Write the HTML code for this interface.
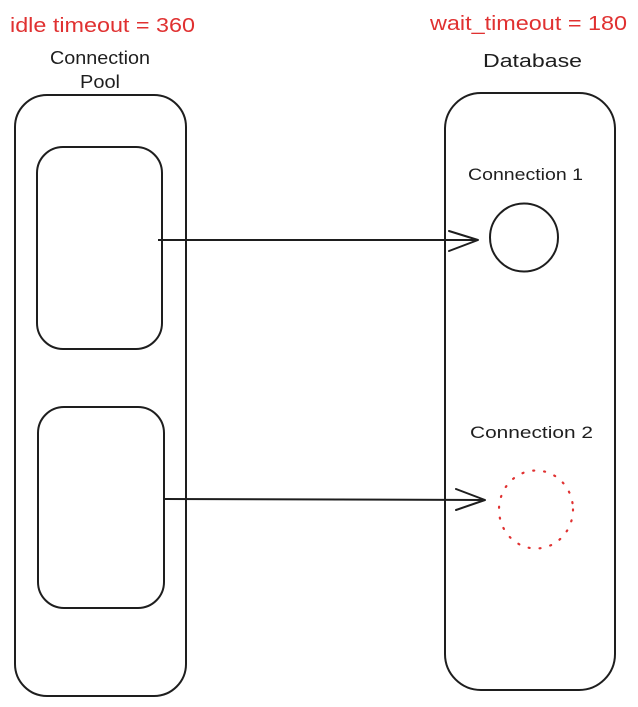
<!DOCTYPE html>
<html>
<head>
<meta charset="utf-8">
<style>
  html, body { margin: 0; padding: 0; background: #ffffff; }
  svg { display: block; }
  text { font-family: "Liberation Sans", "DejaVu Sans", sans-serif; }
</style>
</head>
<body>
<svg width="638" height="707" viewBox="0 0 638 707" xmlns="http://www.w3.org/2000/svg">
  <rect x="0" y="0" width="638" height="707" fill="#ffffff"/>

  <!-- Red labels -->
  <text x="10" y="32" font-size="20" fill="#e03131" textLength="185" lengthAdjust="spacingAndGlyphs">idle timeout = 360</text>
  <text x="430" y="30" font-size="20" fill="#e03131" textLength="197" lengthAdjust="spacingAndGlyphs">wait_timeout = 180</text>

  <!-- Black labels -->
  <text x="50" y="64" font-size="18" fill="#1e1e1e" textLength="100" lengthAdjust="spacingAndGlyphs">Connection</text>
  <text x="80" y="88" font-size="18" fill="#1e1e1e" textLength="40" lengthAdjust="spacingAndGlyphs">Pool</text>
  <text x="483" y="67" font-size="18" fill="#1e1e1e" textLength="99" lengthAdjust="spacingAndGlyphs">Database</text>
  <text x="468" y="180" font-size="17" fill="#1e1e1e" textLength="115" lengthAdjust="spacingAndGlyphs">Connection 1</text>
  <text x="470" y="438" font-size="17" fill="#1e1e1e" textLength="123" lengthAdjust="spacingAndGlyphs">Connection 2</text>

  <!-- Connection pool container -->
  <rect x="15" y="95" width="171" height="601" rx="32" ry="32" fill="none" stroke="#1e1e1e" stroke-width="2"/>
  <!-- Inner pool connections -->
  <rect x="37" y="147" width="125" height="202" rx="26" ry="26" fill="none" stroke="#1e1e1e" stroke-width="2"/>
  <rect x="38" y="407" width="126" height="201" rx="26" ry="26" fill="none" stroke="#1e1e1e" stroke-width="2"/>

  <!-- Database container -->
  <rect x="445" y="93" width="170" height="597" rx="36" ry="36" fill="none" stroke="#1e1e1e" stroke-width="2"/>

  <!-- Connection 1 circle -->
  <ellipse cx="524" cy="237.5" rx="34" ry="34" fill="none" stroke="#1e1e1e" stroke-width="2"/>
  <!-- Connection 2 dotted red circle -->
  <ellipse cx="536" cy="509.5" rx="37" ry="39" fill="none" stroke="#e03131" stroke-width="2.2" stroke-dasharray="1 10" stroke-linecap="round"/>

  <!-- Arrow 1 -->
  <path d="M158 240 L478 240" stroke="#1e1e1e" stroke-width="2" fill="none"/>
  <path d="M449 231 L478 240 L449 251" stroke="#1e1e1e" stroke-width="2" fill="none" stroke-linecap="round" stroke-linejoin="round"/>

  <!-- Arrow 2 -->
  <path d="M165 499 L485 500" stroke="#1e1e1e" stroke-width="2" fill="none"/>
  <path d="M456 489 L485 500 L456 510" stroke="#1e1e1e" stroke-width="2" fill="none" stroke-linecap="round" stroke-linejoin="round"/>
</svg>
</body>
</html>
